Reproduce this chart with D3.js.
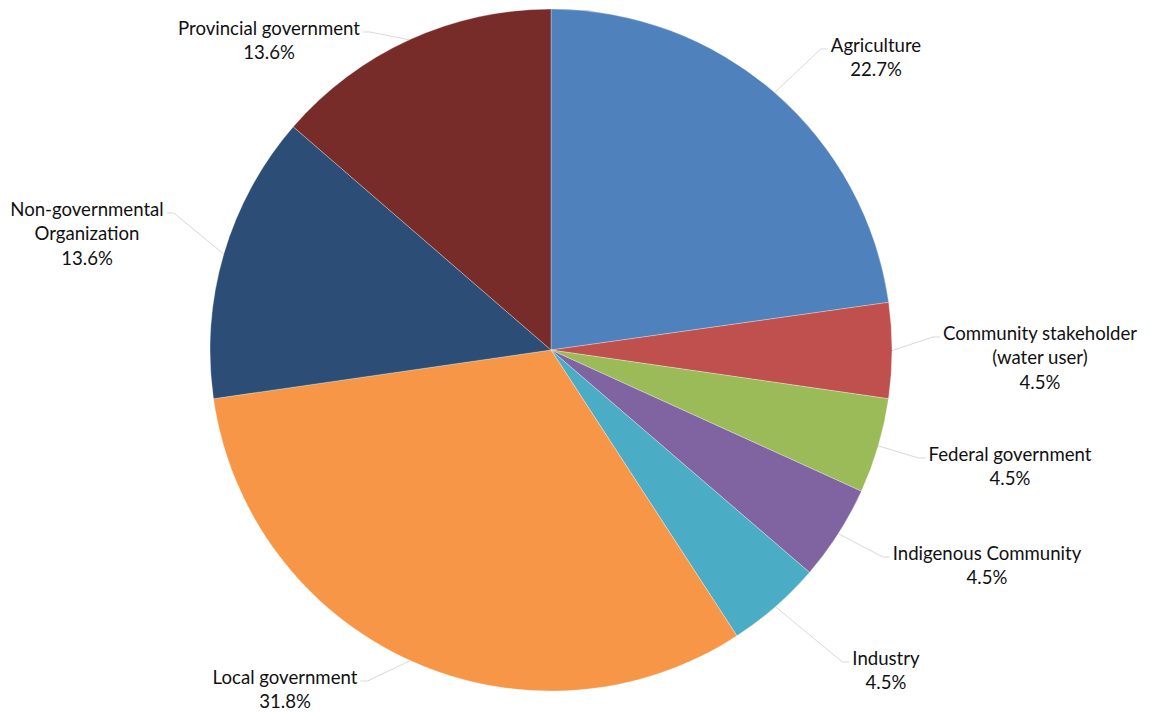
<!DOCTYPE html>
<html>
<head>
<meta charset="utf-8">
<script src="https://cdn.jsdelivr.net/npm/d3@7"></script>
<style>
  html, body { margin: 0; padding: 0; background: #fff; }
  svg { display: block; }
  text { font-family: Lato, "Open Sans", sans-serif; fill: #111111; }
</style>
</head>
<body>
<svg id="chart" width="1149" height="712"></svg>
<script>
// ---- data ----
const categories = [
  "Agriculture",
  "Community stakeholder (water user)",
  "Federal government",
  "Indigenous Community",
  "Industry",
  "Local government",
  "Non-governmental Organization",
  "Provincial government"
];
const labelLines = [
  ["Agriculture"],
  ["Community stakeholder", "(water user)"],
  ["Federal government"],
  ["Indigenous Community"],
  ["Industry"],
  ["Local government"],
  ["Non-governmental", "Organization"],
  ["Provincial government"]
];
const values = [22.7, 4.5, 4.5, 4.5, 4.5, 31.8, 13.6, 13.6];
const percentLabels = ["22.7%", "4.5%", "4.5%", "4.5%", "4.5%", "31.8%", "13.6%", "13.6%"];

// ---- styles / layout ----
const colors = ["#4F81BD", "#C0504D", "#9BBB59", "#8064A2", "#4BACC6", "#F79646", "#2C4D75", "#772C2A"];
const labelCenterX = [876, 1040, 1010, 987, 886, 285, 87, 269];
const labelFirstY  = [45, 333, 454, 553, 658, 677, 209, 28];
const labelSide    = ["right", "right", "right", "right", "right", "left", "left", "left"];

const cx = 551, cy = 350, R = 341;
const lineH = 24.5;
const fontSize = 18.6;

const svg = d3.select("#chart");
const g = svg.append("g").attr("transform", `translate(${cx},${cy})`);

const pie = d3.pie().sort(null).value(d => d.value);
const data = categories.map((c, i) => ({ cat: c, value: values[i], i }));
const arcs = pie(data);
const arc = d3.arc().innerRadius(0).outerRadius(R);

g.selectAll("path.slice")
  .data(arcs)
  .join("path")
  .attr("class", "slice")
  .attr("d", arc)
  .attr("fill", d => colors[d.data.i])
  .attr("stroke", "#ffffff")
  .attr("stroke-opacity", 0.6)
  .attr("stroke-width", 0.5);

// labels
const lg = svg.append("g");
arcs.forEach(a => {
  const i = a.data.i;
  const lines = labelLines[i].concat([percentLabels[i]]);
  const t = lg.append("text")
    .attr("text-anchor", "middle")
    .attr("font-size", fontSize);
  lines.forEach((ln, k) => {
    t.append("tspan")
      .attr("x", labelCenterX[i])
      .attr("y", labelFirstY[i] + k * lineH)
      .attr("dy", "0.35em")
      .text(ln);
  });
  const firstW = t.select("tspan").node().getComputedTextLength();
  const mid = (a.startAngle + a.endAngle) / 2;
  const px = cx + R * Math.sin(mid);
  const py = cy - R * Math.cos(mid);
  const ly = labelFirstY[i] + 4;
  let ex, hx;
  if (labelSide[i] === "right") {
    hx = labelCenterX[i] - firstW / 2 - 3;
    ex = hx - 7;
  } else {
    hx = labelCenterX[i] + firstW / 2 + 3;
    ex = hx + 7;
  }
  lg.append("polyline")
    .attr("points", `${px},${py} ${ex},${ly} ${hx},${ly}`)
    .attr("fill", "none")
    .attr("stroke", "#d9d9d9")
    .attr("stroke-width", 1);
});
</script>
</body>
</html>
